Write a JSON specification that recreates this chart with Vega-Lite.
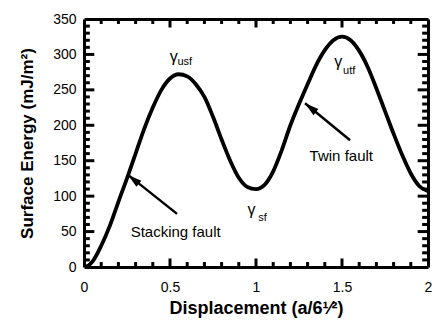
{
  "$schema": "https://vega.github.io/schema/vega-lite/v6.json",
  "autosize": {"type": "none"},
  "width": 344,
  "height": 248,
  "padding": {"left": 84, "top": 19, "right": 4, "bottom": 59},
  "background": "white",
  "config": {
    "view": {"stroke": null},
    "font": "Liberation Sans",
    "axis": {
      "grid": false,
      "domainColor": "black",
      "domainWidth": 3,
      "labelColor": "black",
      "labelFont": "Liberation Sans",
      "labelFontSize": 14,
      "titleColor": "black",
      "titleFont": "Liberation Sans",
      "titleFontWeight": "bold"
    }
  },
  "datasets": {
    "curve": [
      {"d": 0.0, "e": 0},
      {"d": 0.025, "e": 2},
      {"d": 0.05, "e": 8},
      {"d": 0.1, "e": 30},
      {"d": 0.15, "e": 58},
      {"d": 0.2, "e": 92},
      {"d": 0.25, "e": 125},
      {"d": 0.3, "e": 160},
      {"d": 0.35, "e": 195},
      {"d": 0.4, "e": 225},
      {"d": 0.45, "e": 250},
      {"d": 0.5, "e": 266},
      {"d": 0.55, "e": 272},
      {"d": 0.6, "e": 269},
      {"d": 0.65, "e": 258},
      {"d": 0.7, "e": 240},
      {"d": 0.75, "e": 212},
      {"d": 0.8, "e": 180},
      {"d": 0.85, "e": 150},
      {"d": 0.9, "e": 126},
      {"d": 0.95, "e": 113},
      {"d": 1.0, "e": 110},
      {"d": 1.05, "e": 116},
      {"d": 1.1, "e": 135},
      {"d": 1.15, "e": 165},
      {"d": 1.2, "e": 200},
      {"d": 1.25, "e": 230},
      {"d": 1.3, "e": 258},
      {"d": 1.35, "e": 285},
      {"d": 1.4, "e": 306},
      {"d": 1.45, "e": 320},
      {"d": 1.5, "e": 325},
      {"d": 1.55, "e": 320},
      {"d": 1.6, "e": 305},
      {"d": 1.65, "e": 282},
      {"d": 1.7, "e": 252},
      {"d": 1.75, "e": 220},
      {"d": 1.8, "e": 188},
      {"d": 1.85, "e": 158},
      {"d": 1.9, "e": 132},
      {"d": 1.95, "e": 114},
      {"d": 2.0, "e": 107}
    ],
    "xmajor": [{"t": 0.5}, {"t": 1}, {"t": 1.5}],
    "xminor": [{"t": 0.1}, {"t": 0.2}, {"t": 0.3}, {"t": 0.4}, {"t": 0.6}, {"t": 0.7}, {"t": 0.8}, {"t": 0.9}, {"t": 1.1}, {"t": 1.2}, {"t": 1.3}, {"t": 1.4}, {"t": 1.6}, {"t": 1.7}, {"t": 1.8}, {"t": 1.9}],
    "ymajor": [{"t": 50}, {"t": 100}, {"t": 150}, {"t": 200}, {"t": 250}, {"t": 300}],
    "yminor": [{"t": 10}, {"t": 20}, {"t": 30}, {"t": 40}, {"t": 60}, {"t": 70}, {"t": 80}, {"t": 90}, {"t": 110}, {"t": 120}, {"t": 130}, {"t": 140}, {"t": 160}, {"t": 170}, {"t": 180}, {"t": 190}, {"t": 210}, {"t": 220}, {"t": 230}, {"t": 240}, {"t": 260}, {"t": 270}, {"t": 280}, {"t": 290}, {"t": 310}, {"t": 320}, {"t": 330}, {"t": 340}],
    "arrows": [
      {"name": "Stacking fault", "x1": 0.541, "y1": 75, "x2": 0.256, "y2": 130},
      {"name": "Twin fault", "x1": 1.547, "y1": 179, "x2": 1.285, "y2": 231}
    ],
    "labels": [
      {"label": "Stacking fault", "x": 0.533, "y": 50},
      {"label": "Twin fault", "x": 1.496, "y": 157}
    ],
    "gammas": [
      {"label": "γ", "x": 0.522, "y": 297},
      {"label": "γ", "x": 1.478, "y": 289},
      {"label": "γ", "x": 0.974, "y": 80}
    ],
    "subs": [
      {"label": "usf", "x": 0.586, "y": 289},
      {"label": "utf", "x": 1.542, "y": 276},
      {"label": "sf", "x": 1.038, "y": 69}
    ]
  },
  "layer": [
    {
      "data": {"name": "curve"},
      "mark": {"type": "line", "color": "black", "strokeWidth": 3.8, "interpolate": "monotone", "clip": true},
      "encoding": {
        "x": {
          "field": "d", "type": "quantitative",
          "scale": {"domain": [0, 2], "nice": false},
          "axis": {
            "orient": "bottom",
            "title": "Displacement (a/6¹⁄²)",
            "titleFontSize": 18,
            "titlePadding": 5,
            "values": [0, 0.5, 1, 1.5, 2],
            "format": "~g",
            "ticks": false,
            "labelPadding": 13,
            "labelFlush": false,
            "labelOverlap": false
          }
        },
        "y": {
          "field": "e", "type": "quantitative",
          "scale": {"domain": [0, 350], "nice": false},
          "axis": {
            "orient": "left",
            "title": "Surface Energy (mJ/m²)",
            "titleFontSize": 17,
            "titlePadding": 16,
            "values": [0, 50, 100, 150, 200, 250, 300, 350],
            "ticks": false,
            "labelPadding": 8,
            "labelOverlap": false
          }
        }
      }
    },
    {
      "data": {"name": "curve"},
      "mark": {"type": "line", "opacity": 0},
      "encoding": {
        "x": {
          "field": "d", "type": "quantitative",
          "axis": {"orient": "top", "title": null, "labels": false, "ticks": false, "values": [0, 2]}
        },
        "y": {
          "field": "e", "type": "quantitative",
          "axis": {"orient": "right", "title": null, "labels": false, "ticks": false, "values": [0, 350]}
        }
      }
    },
    {
      "data": {"name": "xmajor"},
      "mark": {"type": "rule", "color": "black", "strokeWidth": 3},
      "encoding": {
        "x": {"field": "t", "type": "quantitative", "axis": null},
        "y": {"datum": 0, "type": "quantitative", "axis": null},
        "y2": {"datum": 12}
      }
    },
    {
      "data": {"name": "xmajor"},
      "mark": {"type": "rule", "color": "black", "strokeWidth": 3},
      "encoding": {
        "x": {"field": "t", "type": "quantitative", "axis": null},
        "y": {"datum": 350, "type": "quantitative", "axis": null},
        "y2": {"datum": 338}
      }
    },
    {
      "data": {"name": "xminor"},
      "mark": {"type": "rule", "color": "black", "strokeWidth": 3},
      "encoding": {
        "x": {"field": "t", "type": "quantitative", "axis": null},
        "y": {"datum": 0, "type": "quantitative", "axis": null},
        "y2": {"datum": 7}
      }
    },
    {
      "data": {"name": "xminor"},
      "mark": {"type": "rule", "color": "black", "strokeWidth": 3},
      "encoding": {
        "x": {"field": "t", "type": "quantitative", "axis": null},
        "y": {"datum": 350, "type": "quantitative", "axis": null},
        "y2": {"datum": 343}
      }
    },
    {
      "data": {"name": "ymajor"},
      "mark": {"type": "rule", "color": "black", "strokeWidth": 3},
      "encoding": {
        "y": {"field": "t", "type": "quantitative", "axis": null},
        "x": {"datum": 0, "type": "quantitative", "axis": null},
        "x2": {"datum": 0.06}
      }
    },
    {
      "data": {"name": "ymajor"},
      "mark": {"type": "rule", "color": "black", "strokeWidth": 3},
      "encoding": {
        "y": {"field": "t", "type": "quantitative", "axis": null},
        "x": {"datum": 2, "type": "quantitative", "axis": null},
        "x2": {"datum": 1.94}
      }
    },
    {
      "data": {"name": "yminor"},
      "mark": {"type": "rule", "color": "black", "strokeWidth": 3},
      "encoding": {
        "y": {"field": "t", "type": "quantitative", "axis": null},
        "x": {"datum": 0, "type": "quantitative", "axis": null},
        "x2": {"datum": 0.034}
      }
    },
    {
      "data": {"name": "yminor"},
      "mark": {"type": "rule", "color": "black", "strokeWidth": 3},
      "encoding": {
        "y": {"field": "t", "type": "quantitative", "axis": null},
        "x": {"datum": 2, "type": "quantitative", "axis": null},
        "x2": {"datum": 1.966}
      }
    },
    {
      "data": {"name": "arrows"},
      "mark": {"type": "rule", "color": "black", "strokeWidth": 2.5},
      "encoding": {
        "x": {"field": "x1", "type": "quantitative", "axis": null},
        "y": {"field": "y1", "type": "quantitative", "axis": null},
        "x2": {"field": "x2"},
        "y2": {"field": "y2"}
      }
    },
    {
      "data": {"name": "arrows"},
      "mark": {"type": "point", "shape": "M0,0L0.28,1L-0.28,1Z", "size": 784, "angle": 309, "filled": true, "color": "black", "opacity": 1, "strokeWidth": 0},
      "encoding": {
        "x": {"field": "x2", "type": "quantitative", "axis": null},
        "y": {"field": "y2", "type": "quantitative", "axis": null}
      }
    },
    {
      "data": {"name": "labels"},
      "mark": {"type": "text", "font": "Liberation Sans", "fontSize": 15, "color": "black", "align": "center", "baseline": "middle"},
      "encoding": {
        "x": {"field": "x", "type": "quantitative", "axis": null},
        "y": {"field": "y", "type": "quantitative", "axis": null},
        "text": {"field": "label"}
      }
    },
    {
      "data": {"name": "gammas"},
      "mark": {"type": "text", "font": "Liberation Sans", "fontSize": 16, "color": "black", "align": "center", "baseline": "middle"},
      "encoding": {
        "x": {"field": "x", "type": "quantitative", "axis": null},
        "y": {"field": "y", "type": "quantitative", "axis": null},
        "text": {"field": "label"}
      }
    },
    {
      "data": {"name": "subs"},
      "mark": {"type": "text", "font": "Liberation Sans", "fontSize": 11, "color": "black", "align": "center", "baseline": "middle"},
      "encoding": {
        "x": {"field": "x", "type": "quantitative", "axis": null},
        "y": {"field": "y", "type": "quantitative", "axis": null},
        "text": {"field": "label"}
      }
    }
  ],
  "resolve": {"axis": {"x": "independent", "y": "independent"}}
}
